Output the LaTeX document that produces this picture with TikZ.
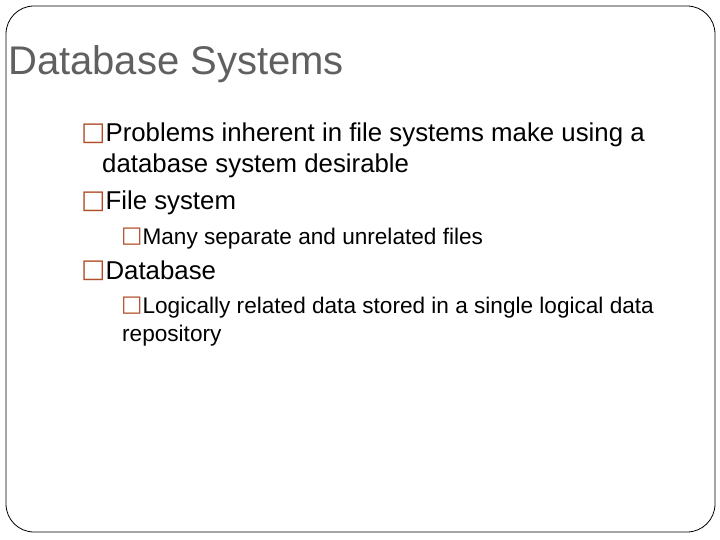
\documentclass[tikz,border=0pt]{standalone}
\usepackage{fontspec}
\setmainfont{Liberation Sans}
\newfontfamily\symf{DejaVu Sans}
\definecolor{bul}{HTML}{B0502A}
\definecolor{ttl}{HTML}{606060}
\newcommand{\bx}{{\symf\color{bul}\raisebox{0.05em}{□}}}
\begin{document}
\begin{tikzpicture}[x=1pt,y=-1pt,
  t/.style={anchor=base west,inner sep=0pt},
  l1/.style={t,font=\fontsize{25.8}{28}\selectfont},
  l2/.style={t,font=\fontsize{22.6}{24}\selectfont}]
\useasboundingbox (0,0) rectangle (720,540);
\draw[line width=0.8pt,rounded corners=28pt] (6,6) rectangle (715,532);
\node[t,font=\fontsize{40}{44}\selectfont,text=ttl] (title) at (8,75) {Database Systems};
\node[l1] (b1) at (81,142) {\bx Problems inherent in file systems make using a};
\node[l1] (b1b) at (102,173) {database system desirable};
\node[l1] (b2) at (81,210) {\bx File system};
\node[l2] (b21) at (121,244) {\bx Many separate and unrelated files};
\node[l1] (b3) at (81,279) {\bx Database};
\node[l2] (b31) at (121,313) {\bx Logically related data stored in a single logical data};
\node[l2] (b31b) at (122,341) {repository};
\end{tikzpicture}
\end{document}
